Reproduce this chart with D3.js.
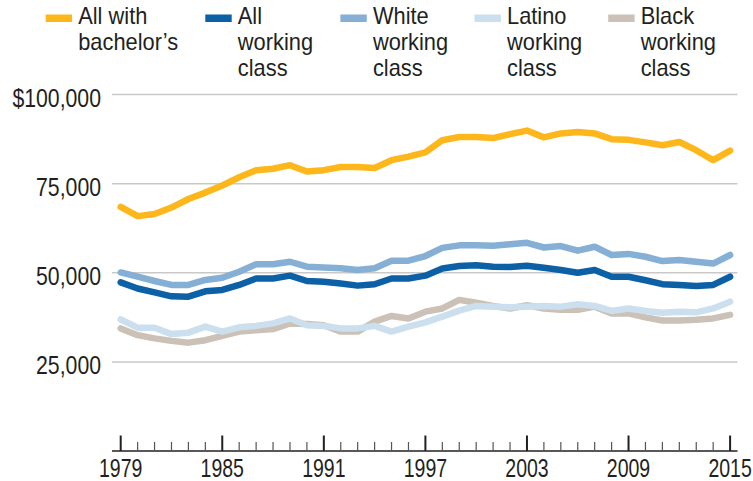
<!DOCTYPE html>
<html>
<head>
<meta charset="utf-8">
<script src="https://cdn.jsdelivr.net/npm/d3@7"></script>
<style>
  html, body { margin: 0; padding: 0; background: #fff; }
  svg { display: block; }
  text { font-family: "Liberation Sans", Arial, sans-serif; fill: #231F20; }
</style>
</head>
<body>
<svg id="chart" width="753" height="481"></svg>
<script>
const years = d3.range(1979, 2016);
const bachelors = [68500, 65900, 66500, 68300, 70700, 72500, 74500, 76800, 78800, 79200, 80200, 78400, 78800, 79700, 79700, 79400, 81600, 82600, 83800, 87200, 88100, 88100, 87800, 88900, 89900, 88000, 89100, 89500, 89100, 87500, 87300, 86600, 85800, 86700, 84400, 81600, 84300];
const allWorking = [47300, 45600, 44500, 43400, 43300, 44800, 45200, 46600, 48400, 48400, 49200, 47700, 47500, 47000, 46400, 46800, 48400, 48400, 49200, 51200, 51900, 52100, 51700, 51600, 52000, 51400, 50800, 50000, 50800, 48900, 48900, 47900, 46800, 46600, 46300, 46600, 48900];
const whiteWorking = [50100, 48900, 47700, 46600, 46600, 48000, 48600, 50300, 52400, 52400, 53100, 51700, 51500, 51300, 50800, 51300, 53400, 53400, 54700, 57000, 57700, 57700, 57600, 58000, 58400, 57100, 57500, 56200, 57300, 55000, 55300, 54500, 53300, 53600, 53100, 52600, 55000];
const latinoWorking = [36900, 34600, 34600, 32800, 33200, 34900, 33500, 34700, 35100, 35800, 37200, 35300, 35100, 34400, 34400, 35100, 33500, 34900, 36100, 37700, 39400, 40700, 40500, 40300, 40500, 40700, 40500, 41200, 40700, 39300, 40000, 39300, 38800, 39100, 38900, 40000, 41900];
const blackWorking = [34400, 32500, 31600, 30900, 30400, 31100, 32300, 33500, 33900, 34200, 35800, 35600, 35300, 33500, 33500, 36300, 37900, 37200, 39100, 40000, 42400, 41600, 40700, 40000, 40900, 40000, 39600, 39600, 40500, 38600, 38600, 37500, 36600, 36600, 36800, 37200, 38200];

const yTicks = [25000, 50000, 75000, 100000];
const yTickLabels = ["25,000", "50,000", "75,000", "$100,000"];
const xLabelYears = [1979, 1985, 1991, 1997, 2003, 2009, 2015];

const seriesNames = ["All with bachelor’s", "All working class", "White working class", "Latino working class", "Black working class"];
const legendLines = [["All with", "bachelor’s"], ["All", "working", "class"], ["White", "working", "class"], ["Latino", "working", "class"], ["Black", "working", "class"]];
const colors = ["#FDB71A", "#0B60A6", "#85AFD4", "#CBDFEE", "#CBC1B6"];
const seriesData = [bachelors, allWorking, whiteWorking, latinoWorking, blackWorking];

const svg = d3.select("#chart");
const x = d3.scaleLinear().domain([1979, 2015]).range([120.7, 730.1]);
const y = d3.scaleLinear().domain([0, 100000]).range([451, 94.6]);
const plotLeft = 112, plotRight = 737.5;

// gridlines
svg.append("g").selectAll("line").data(yTicks).join("line")
  .attr("x1", plotLeft).attr("x2", plotRight)
  .attr("y1", d => y(d)).attr("y2", d => y(d))
  .attr("stroke", "#C9C9C9").attr("stroke-width", 1.5);

// y labels
svg.append("g").selectAll("text").data(yTicks).join("text")
  .attr("transform", d => `translate(101,${y(d) + 12}) scale(0.85,1)`)
  .attr("text-anchor", "end")
  .attr("font-size", 25)
  .text((d, i) => yTickLabels[i]);

// x axis
const xAxisG = svg.append("g").attr("transform", `translate(0,${y(0)})`);
xAxisG.append("line").attr("x1", plotLeft).attr("x2", plotRight)
  .attr("stroke", "#231F20").attr("stroke-width", 1.5);
xAxisG.selectAll("line.tick").data(years).join("line").attr("class", "tick")
  .attr("x1", d => x(d)).attr("x2", d => x(d))
  .attr("y1", 0).attr("y2", d => xLabelYears.includes(d) ? -15.5 : -9)
  .attr("stroke", d => xLabelYears.includes(d) ? "#231F20" : "#555")
  .attr("stroke-width", d => xLabelYears.includes(d) ? 2 : 1.2);
xAxisG.selectAll("text").data(xLabelYears).join("text")
  .attr("transform", d => `translate(${x(d)},25.5) scale(0.78,1)`)
  .attr("text-anchor", "middle")
  .attr("font-size", 25)
  .text(d => String(d));

// lines (draw order: black, latino, white, all working, bachelors)
const line = d3.line().x((d, i) => x(years[i])).y(d => y(d));
const order = [4, 3, 2, 1, 0];
svg.append("g").selectAll("path").data(order).join("path")
  .attr("d", k => line(seriesData[k]))
  .attr("fill", "none")
  .attr("stroke", k => colors[k])
  .attr("stroke-width", 6.5)
  .attr("stroke-linejoin", "round")
  .attr("stroke-linecap", "round");

// legend
const swatchX = [45.7, 205.3, 340.4, 474.5, 608.2];
const legend = svg.append("g");
const items = legend.selectAll("g").data(seriesNames).join("g")
  .attr("transform", (d, i) => `translate(${swatchX[i]},0)`)
  .attr("aria-label", d => d);
items.append("rect").attr("x", 0).attr("y", 14.5).attr("width", 26.4).attr("height", 7.5)
  .attr("fill", (d, i) => colors[i]);
items.each(function(d, i) {
  const g = d3.select(this).append("g")
    .attr("transform", "translate(32.5,0) scale(0.95,1)");
  g.selectAll("text").data(legendLines[i]).join("text")
    .attr("x", 0).attr("y", (s, j) => 24.5 + j * 25.8)
    .attr("font-size", 23)
    .text(s => s);
});
</script>
</body>
</html>
